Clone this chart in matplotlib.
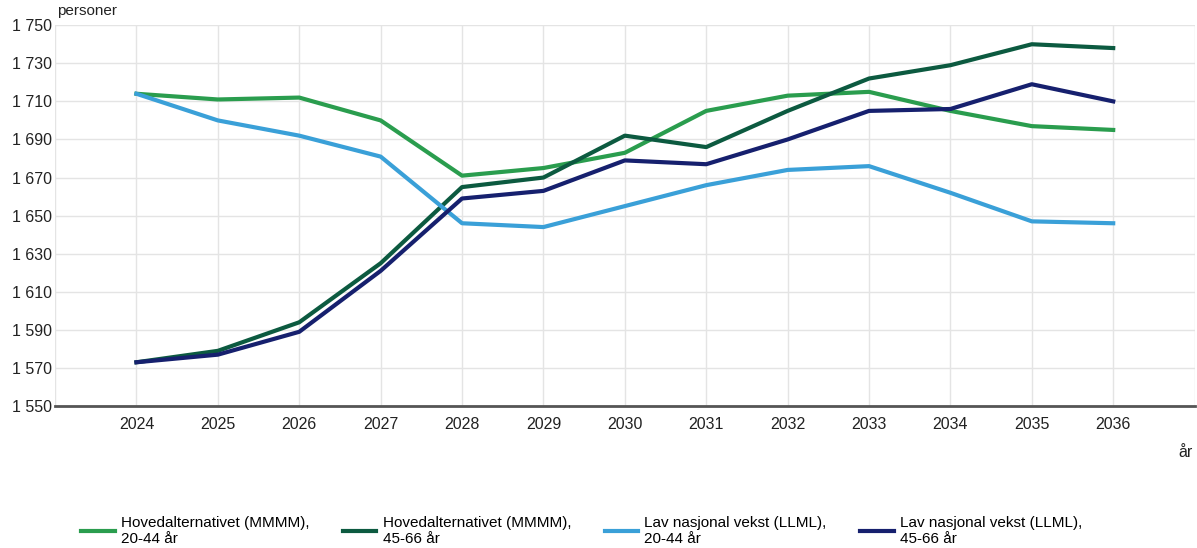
import matplotlib
matplotlib.use('Agg')
import matplotlib.pyplot as plt
from matplotlib.ticker import FuncFormatter

years = list(range(2024, 2037))
hoved_20_44 = [1714, 1711, 1712, 1700, 1671, 1675, 1683, 1705, 1713, 1715, 1705, 1697, 1695]
hoved_45_66 = [1573, 1579, 1594, 1625, 1665, 1670, 1692, 1686, 1705, 1722, 1729, 1740, 1738]
lav_20_44 = [1714, 1700, 1692, 1681, 1646, 1644, 1655, 1666, 1674, 1676, 1662, 1647, 1646]
lav_45_66 = [1573, 1577, 1589, 1621, 1659, 1663, 1679, 1677, 1690, 1705, 1706, 1719, 1710]

labels = ['Hovedalternativet (MMMM),\n20-44 år',
          'Hovedalternativet (MMMM),\n45-66 år',
          'Lav nasjonal vekst (LLML),\n20-44 år',
          'Lav nasjonal vekst (LLML),\n45-66 år']
colors = ['#2a9d4e', '#0c5a40', '#3aa0d8', '#16206e']
series = [hoved_20_44, hoved_45_66, lav_20_44, lav_45_66]

plt.rcParams['font.family'] = ['Liberation Sans', 'DejaVu Sans']

fig = plt.figure(figsize=(11.97, 5.48), dpi=100)
ax = fig.add_axes([0.046, 0.259, 0.952, 0.695])

for s, c, l in zip(series, colors, labels):
    ax.plot(years, s, color=c, lw=3, label=l)

ax.set_xlim(2023, 2037)
ax.set_ylim(1550, 1750)
ax.set_yticks(range(1550, 1751, 20))
ax.yaxis.set_major_formatter(FuncFormatter(lambda v, p: '{:,}'.format(int(v)).replace(',', ' ')))
ax.set_xticks(range(2023, 2038))
ax.set_xticklabels([''] + [str(y) for y in years] + [''])
ax.tick_params(axis='both', length=0, labelsize=11.5, colors='#222222')
ax.tick_params(axis='x', pad=8)
ax.tick_params(axis='y', pad=2)
ax.grid(True, color='#e4e4e4', lw=1)
ax.set_axisbelow(True)
for side in ['left', 'top', 'right']:
    ax.spines[side].set_visible(False)
ax.spines['bottom'].set_color('#555555')
ax.spines['bottom'].set_linewidth(2)

fig.text(0.048, 0.968, 'personer', fontsize=11, color='#222222', ha='left', va='bottom')
fig.text(0.996, 0.175, 'år', fontsize=11.5, color='#222222', ha='right', va='center')

leg = fig.legend(loc='lower left', bbox_to_anchor=(81 / 1197, 0.003), ncol=4, frameon=False,
                 fontsize=11, handlelength=2.2, columnspacing=2.2, handletextpad=0.4,
                 borderpad=0, borderaxespad=0)
for t in leg.get_texts():
    t.set_linespacing(1.2)

fig.savefig('out.png', dpi=100)
